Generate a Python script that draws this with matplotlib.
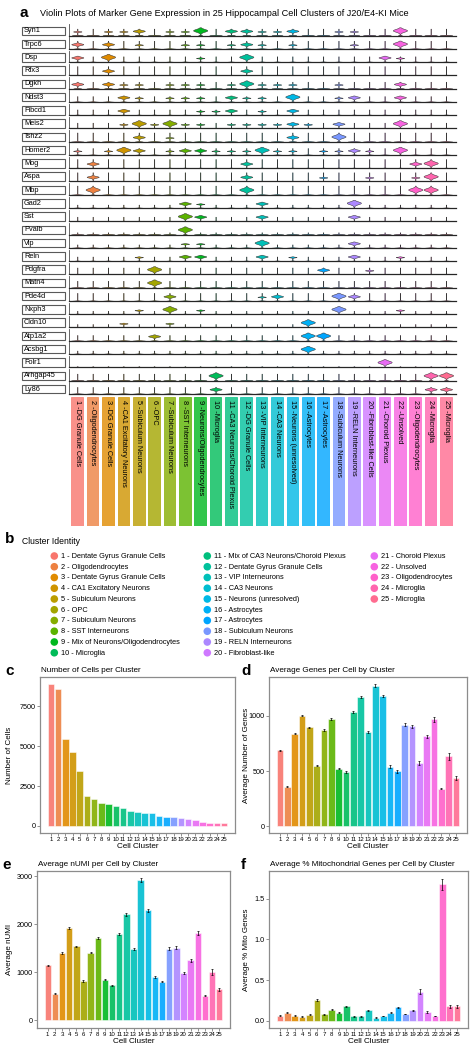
import numpy as np
import matplotlib
matplotlib.use("Agg")
import matplotlib.pyplot as plt
from matplotlib.patches import Rectangle

plt.rcParams['font.family'] = ['Liberation Sans', 'DejaVu Sans']

W, H = 477, 1050

# ---- data ----
clusters = list(range(1, 26))

genes = ["Syn1", "Trpc6", "Dsp", "Rfx3", "Dgkh", "Ndst3", "Fibcd1", "Meis2", "Tshz2",
         "Homer2", "Mog", "Aspa", "Mbp", "Gad2", "Sst", "Pvalb", "Vip", "Reln", "Pdgfra",
         "Matn4", "Pde4d", "Nxph3", "Cldn10", "Atp1a2", "Acsbg1", "Folr1", "Arhgap45", "Ly86"]

# expression level per gene (rows) and cluster (cols): 0 none .. 3 high
expr = [
    [1,0,1,1,2,0,1,1,3,0,2,2,1,1,2,0,0,1,1,0,0,3,0,0,0],  # Syn1
    [2,0,2,0,1,0,0,1,1,0,1,2,1,0,1,0,0,0,1,0,0,3,0,0,0],  # Trpc6
    [2,0,3,0,0,0,0,0,1,0,0,3,0,0,0,0,0,0,0,0,2,1,0,0,0],  # Dsp
    [0,0,2,0,0,0,0,0,0,0,0,2,0,0,0,0,0,0,0,0,0,0,0,0,0],  # Rfx3
    [2,0,2,1,1,0,1,1,1,0,1,3,1,1,1,0,0,1,0,0,0,2,0,0,0],  # Dgkh
    [0,0,0,2,1,0,1,1,1,0,2,1,1,0,3,0,0,1,2,0,0,2,0,0,0],  # Ndst3
    [0,0,0,2,0,0,0,0,1,1,2,0,1,0,2,0,0,0,0,0,0,0,0,0,0],  # Fibcd1
    [0,0,0,1,3,1,3,1,1,0,1,1,1,1,2,1,0,2,0,0,0,3,0,0,0],  # Meis2
    [0,0,0,0,2,0,1,0,0,0,0,0,0,0,2,0,0,3,0,0,0,0,0,0,0],  # Tshz2
    [1,0,1,3,2,0,1,2,2,1,1,1,3,1,1,0,1,1,2,1,0,3,0,0,0],  # Homer2
    [0,2,0,0,0,0,0,0,0,0,0,2,0,0,0,0,0,0,0,0,0,0,2,3,0],  # Mog
    [0,2,0,0,0,0,0,0,0,0,0,2,0,0,0,0,1,0,0,1,0,0,1,3,0],  # Aspa
    [0,3,0,0,0,0,0,0,0,0,0,3,0,0,0,0,0,0,0,0,0,0,3,3,0],  # Mbp
    [0,0,0,0,0,0,0,2,1,0,0,0,2,0,0,0,0,0,3,0,0,0,0,0,0],  # Gad2
    [0,0,0,0,0,0,0,3,2,0,0,0,2,0,0,0,0,0,2,0,0,0,0,0,0],  # Sst
    [0,0,0,0,0,0,0,3,0,0,0,0,0,0,0,0,0,0,0,0,0,0,0,0,0],  # Pvalb
    [0,0,0,0,0,0,0,1,1,0,0,0,3,0,0,0,0,0,2,0,0,0,0,0,0],  # Vip
    [0,0,0,0,1,0,0,2,2,0,0,0,2,0,1,0,0,0,2,0,0,1,0,0,0],  # Reln
    [0,0,0,0,0,3,0,0,0,0,0,0,0,0,0,0,2,0,0,1,0,0,0,0,0],  # Pdgfra
    [0,0,0,0,0,3,0,0,0,0,0,0,0,0,0,0,0,0,0,0,0,0,0,0,0],  # Matn4
    [0,0,0,0,0,0,2,0,0,0,0,0,1,2,0,0,0,3,2,0,0,0,0,0,0],  # Pde4d
    [0,0,0,0,1,0,3,0,1,0,0,0,0,0,0,0,0,3,0,0,0,1,0,0,0],  # Nxph3
    [0,0,0,1,0,0,1,0,0,0,0,0,0,0,0,3,0,0,0,0,0,0,0,0,0],  # Cldn10
    [0,0,0,0,0,2,0,0,0,0,0,0,0,0,0,3,3,0,0,0,0,0,0,0,0],  # Atp1a2
    [0,0,0,0,0,0,0,0,0,0,0,0,0,0,0,3,0,0,0,0,0,0,0,0,0],  # Acsbg1
    [0,0,0,0,0,0,0,0,0,0,0,0,0,0,0,0,0,0,0,0,3,0,0,0,0],  # Folr1
    [0,0,0,0,0,0,0,0,0,3,0,0,0,0,0,0,0,0,0,0,0,0,0,3,3],  # Arhgap45
    [0,0,0,0,0,0,0,0,0,2,0,0,0,0,0,0,0,0,0,0,0,0,0,2,2],  # Ly86
]
# relative max (tail height) of each gene row
gene_max = [0.6, 0.7, 0.5, 0.8, 0.6, 0.5, 0.5, 0.5, 0.8, 0.6, 0.8, 0.8, 0.8, 0.3,
            0.4, 0.2, 0.3, 0.4, 0.6, 0.6, 0.7, 0.3, 0.3, 0.5, 0.3, 0.1, 0.6, 0.6]

short_names = ["DG Granule Cells", "Oligodendrocytes", "DG Granule Cells", "CA1 Excitatory Neurons",
               "Subiculum Neurons", "OPC", "Subiculum Neurons", "SST Interneurons",
               "Neurons/Oligodendrocytes", "Microglia", "CA3 Neurons/Choroid Plexus",
               "DG Granule Cells", "VIP Interneurons", "CA3 Neurons", "Neurons (unresolved)",
               "Astrocytes", "Astrocytes", "Subiculum Neurons", "RELN Interneurons",
               "Fibroblast-like Cells", "Choroid Plexus", "Unsolved", "Oligodendrocytes",
               "Microglia", "Microglia"]

legend_names = ["Dentate Gyrus Granule Cells", "Oligodendrocytes", "Dentate Gyrus Granule Cells",
                "CA1 Excitatory Neurons", "Subiculum Neurons", "OPC", "Subiculum Neurons",
                "SST Interneurons", "Mix of Neurons/Oligodendrocytes", "Microglia",
                "Mix of CA3 Neurons/Choroid Plexus", "Dentate Gyrus Granule Cells",
                "VIP Interneurons", "CA3 Neurons", "Neurons (unresolved)", "Astrocytes",
                "Astrocytes", "Subiculum Neurons", "RELN Interneurons", "Fibroblast-like",
                "Choroid Plexus", "Unsolved", "Oligodendrocytes", "Microglia", "Microglia"]

n_cells = [8900, 8590, 5480, 4630, 3440, 1880, 1670, 1420, 1400, 1230, 1100, 940, 900,
           810, 810, 600, 545, 540, 520, 420, 375, 230, 190, 185, 170]

avg_genes = [687, 359, 837, 1000, 894, 550, 873, 970, 522, 492, 1036, 1168, 855, 1270,
             1178, 541, 497, 918, 904, 572, 813, 967, 340, 632, 438]
avg_genes_err = [4, 5, 5, 6, 6, 7, 7, 8, 8, 8, 9, 11, 11, 14, 12, 12, 13, 15, 15, 16,
                 17, 20, 6, 28, 18]

avg_numi = [1146, 556, 1403, 1924, 1542, 819, 1410, 1722, 847, 729, 1806, 2208, 1479,
            2917, 2292, 896, 806, 1493, 1514, 986, 1250, 1819, 514, 1007, 646]
avg_numi_err = [8, 8, 12, 15, 14, 12, 14, 18, 15, 14, 20, 28, 22, 38, 30, 18, 18, 25, 28,
                28, 32, 45, 12, 55, 30]

avg_mito = [0.062, 0.099, 0.062, 0.049, 0.074, 0.255, 0.078, 0.136, 0.099, 0.177, 0.053,
            0.053, 0.127, 0.037, 0.058, 0.099, 0.164, 0.082, 0.127, 0.357, 0.111, 0.058,
            1.677, 0.177, 0.177]
avg_mito_err = [0.003, 0.005, 0.003, 0.003, 0.004, 0.008, 0.004, 0.006, 0.006, 0.008,
                0.003, 0.004, 0.006, 0.003, 0.004, 0.006, 0.01, 0.006, 0.008, 0.03, 0.012,
                0.005, 0.07, 0.018, 0.018]


def hue_pal(n, c=100.0, l=65.0):
    # ggplot2 default hue palette (HCL -> sRGB)
    hues = 15 + 360 * np.arange(n) / n
    Xn, Yn, Zn = 95.047, 100.0, 108.883
    un = 4 * Xn / (Xn + 15 * Yn + 3 * Zn)
    vn = 9 * Yn / (Xn + 15 * Yn + 3 * Zn)
    out = []
    for h in hues:
        hr = np.deg2rad(h)
        u, v = c * np.cos(hr), c * np.sin(hr)
        Y = Yn * ((l + 16) / 116) ** 3
        up = u / (13 * l) + un
        vp = v / (13 * l) + vn
        X = Y * 9 * up / (4 * vp)
        Z = Y * (12 - 3 * up - 20 * vp) / (4 * vp)
        X, Y, Z = X / 100, Y / 100, Z / 100
        rgb = np.array([3.2404542 * X - 1.5371385 * Y - 0.4985314 * Z,
                        -0.9692660 * X + 1.8760108 * Y + 0.0415560 * Z,
                        0.0556434 * X - 0.2040259 * Y + 1.0572252 * Z])
        rgb = np.where(rgb <= 0.0031308, 12.92 * rgb, 1.055 * np.clip(rgb, 0, None) ** (1 / 2.4) - 0.055)
        out.append(tuple(np.clip(rgb, 0, 1)))
    return out


colors = hue_pal(25)

fig = plt.figure(figsize=(W / 100, H / 100), dpi=100)


def px_axes(x0, y0, x1, y1):
    return fig.add_axes([x0 / W, 1 - y1 / H, (x1 - x0) / W, (y1 - y0) / H])


# overlay in pixel coordinates for labels / legend
ov = fig.add_axes([0, 0, 1, 1])
ov.set_xlim(0, W)
ov.set_ylim(H, 0)
ov.axis("off")
ov.set_zorder(5)

# ---- panel a ----
ov.text(20, 13, "a", fontsize=11, fontweight="bold", va="center")
ov.text(40, 14, "Violin Plots of Marker Gene Expression in 25 Hippocampal Cell Clusters of J20/E4-KI Mice",
        fontsize=6.6, va="center")

pitch = 13.27
vx0, vx1 = 69, 456
xl = (0.46, 25.65)
mu_l = {1: 0.35, 2: 0.4, 3: 0.45}
sd_l = {1: 0.03, 2: 0.07, 3: 0.12}
wd_l = {1: 0.26, 2: 0.38, 3: 0.45}
base_l = {0: 0.4, 1: 0.35, 2: 0.25, 3: 0.12}

for i, g in enumerate(genes):
    base = 35.5 + pitch * i
    ax = px_axes(vx0, base - 11.5, vx1, base)
    ax.set_xlim(*xl)
    ax.set_ylim(0, 1)
    for s in ["top", "right"]:
        ax.spines[s].set_visible(False)
    ax.spines["left"].set_color("0.3")
    ax.spines["bottom"].set_color("0.15")
    ax.spines["left"].set_linewidth(0.6)
    ax.spines["bottom"].set_linewidth(0.9)
    ax.set_xticks([])
    ax.set_yticks([])
    ax.patch.set_alpha(0)
    for j, c in enumerate(clusters):
        lv = expr[i][j]
        top = gene_max[i]
        if lv > 0:
            top = max(top, mu_l[lv] + 2.2 * sd_l[lv])
        y = np.linspace(0, top, 200)
        w = base_l[lv] * np.exp(-0.5 * (y / 0.025) ** 2) + 0.012
        if lv > 0:
            w = w + wd_l[lv] * np.exp(-0.5 * ((y - mu_l[lv]) / sd_l[lv]) ** 2)
        ax.fill_betweenx(y, c - w, c + w, facecolor=colors[j], edgecolor="0.2", linewidth=0.35)
    # gene label box
    ov.add_patch(Rectangle((21.7, base - 9), 43.3, 8.5, facecolor="white",
                           edgecolor="0.35", linewidth=0.8))
    ov.text(24, base - 4.7, g, fontsize=5.3, va="center", ha="left")

# colored cluster label bars
axl = px_axes(vx0, 397, vx1, 525.5)
axl.set_xlim(*xl)
axl.set_ylim(1, 0)
axl.axis("off")
axl.bar(clusters, [1] * 25, width=0.755, bottom=0, color=colors, alpha=0.8,
        edgecolor=colors, linewidth=0.6)
for j, c in enumerate(clusters):
    axl.text(c, 0.02, f"{c} -{short_names[j]}", rotation=270, fontsize=5.3,
             ha="center", va="top")

# ---- panel b legend ----
ov.text(5, 539, "b", fontsize=11, fontweight="bold", va="center")
ov.text(22.5, 542, "Cluster Identity", fontsize=6.2, va="center")
col_x = [54.3, 207.3, 374.3]
for j, c in enumerate(clusters):
    col, row = j // 10, j % 10
    yy = 556 + row * 10.75
    ov.scatter(col_x[col], yy, s=30, color=colors[j], edgecolor="none")
    ov.text(col_x[col] + 6.5, yy + 0.3, f"{c} - {legend_names[j]}", fontsize=5.3, va="center")


# ---- bar panels ----
def bar_panel(box, vals, err, ylim, yticks, yticklabels, title, letter, ylabel, ylabel_x, xlabel_y):
    x0, y0, x1, y1 = box
    ax = px_axes(x0, y0, x1, y1)
    ax.bar(clusters, vals, width=0.9, color=colors, alpha=0.9, edgecolor="white", linewidth=0.4)
    if err is not None:
        ax.errorbar(clusters, vals, yerr=err, fmt="none", ecolor="black", elinewidth=0.5,
                    capsize=0.7, capthick=0.5)
    ax.set_xlim(-0.5, 26.5)
    ax.set_ylim(*ylim)
    ax.set_xticks(clusters)
    ax.set_xticklabels([str(c) for c in clusters], fontsize=4.4)
    ax.set_yticks(yticks)
    ax.set_yticklabels(yticklabels, fontsize=5.2)
    ax.tick_params(length=2, width=0.5, color="0.4", pad=1)
    for s in ax.spines.values():
        s.set_color("0.55")
        s.set_linewidth(0.9)
    ov.text(x0 - 35 if letter in "ce" else x0 - 28, y0 - 6, letter, fontsize=11,
            fontweight="bold", va="center")
    ov.text(x0 + 1, y0 - 6, title, fontsize=5.9, va="center")
    ov.text(ylabel_x, (y0 + y1) / 2, ylabel, rotation=90, fontsize=5.8, va="center", ha="center")
    ov.text((x0 + x1) / 2, xlabel_y, "Cell Cluster", fontsize=5.9, ha="center", va="center")
    return ax


bar_panel((40, 677, 235, 833), n_cells, None, (-445, 9345), [0, 2500, 5000, 7500],
          ["0", "2500", "5000", "7500"], "Number of Cells per Cluster", "c",
          "Number of Cells", 10, 846.5)
bar_panel((269, 677, 467, 833), avg_genes, avg_genes_err, (-60, 1350), [0, 500, 1000],
          ["0", "500", "1000"], "Average Genes per Cell by Cluster", "d",
          "Average Number of Genes", 246.5, 846.5)
bar_panel((37, 871, 230, 1028), avg_numi, avg_numi_err, (-160, 3110), [0, 1000, 2000, 3000],
          ["0", "1000", "2000", "3000"], "Average nUMI per Cell by Cluster", "e",
          "Average nUMI", 10, 1041.5)
bar_panel((269, 871, 468, 1028), avg_mito, avg_mito_err, (-0.09, 1.84), [0, 0.5, 1.0, 1.5],
          ["0.0", "0.5", "1.0", "1.5"], "Average % Mitochondrial Genes per Cell by Cluster", "f",
          "Average % Mito Genes", 246.5, 1041.5)

fig.savefig("out.png", dpi=100)
